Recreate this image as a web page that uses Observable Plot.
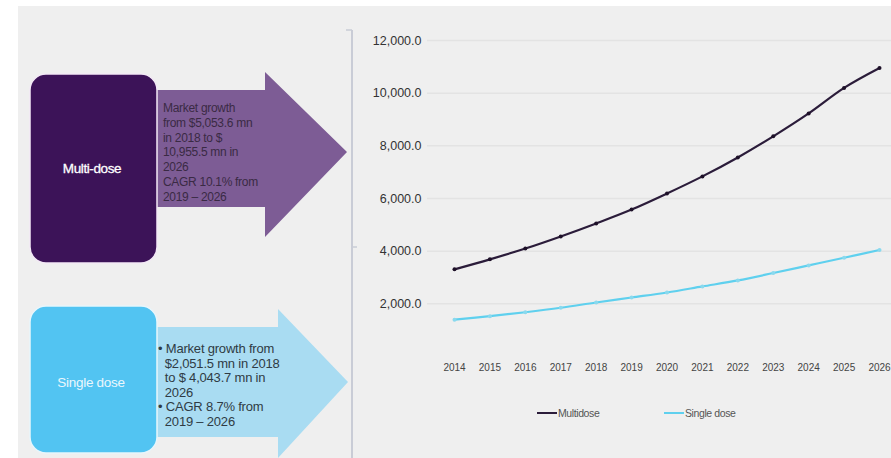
<!DOCTYPE html>
<html><head><meta charset="utf-8">
<script src="https://cdn.jsdelivr.net/npm/d3@7"></script>
<script src="https://cdn.jsdelivr.net/npm/@observablehq/plot@0.6"></script>
<style>
html,body{margin:0;padding:0;background:#fff;}
#wrap{position:relative;width:891px;height:458px;overflow:hidden;background:#fff;font-family:"Liberation Sans",Arial,sans-serif;}
#bg{position:absolute;left:18px;top:6px;right:0;bottom:0;background:#efefef;}
#deco{position:absolute;left:0;top:0;}
#chart{position:absolute;left:0;top:0;}
.lbl{position:absolute;white-space:nowrap;}
.legend{position:absolute;top:407px;font-size:10.5px;color:#555;display:flex;align-items:center;letter-spacing:-0.4px;}
.legend span.sw{display:inline-block;width:20px;height:2.5px;margin-right:1px;}
</style></head>
<body>
<div id="wrap">
<div id="bg"></div>
<svg id="deco" width="891" height="458">
  <polygon points="150,90 265,90 265,72 347,152 265,237 265,207 150,207" fill="#7d5c95"/>
  <rect x="30" y="74" width="127" height="189" rx="16" fill="#3c1358" stroke="#f3e9f6" stroke-width="1.5"/>
  <polygon points="150,327 278,327 278,309 348,382 278,458 278,437 150,437" fill="#a9dcf2"/>
  <rect x="30" y="306" width="127" height="147" rx="16" fill="#52c4f2" stroke="#e8f6fc" stroke-width="1.5"/>
  <line x1="352" y1="30" x2="352" y2="458" stroke="#c9ccd6" stroke-width="2"/>
  <line x1="346" y1="30" x2="352" y2="30" stroke="#c9ccd6" stroke-width="1.5"/>
  <line x1="352" y1="247" x2="357" y2="247" stroke="#c9ccd6" stroke-width="1.5"/>
  <text x="92" y="173" fill="#ffffff" font-size="13.5" text-anchor="middle" font-family="Liberation Sans, Arial, sans-serif" letter-spacing="-0.4" stroke="#ffffff" stroke-width="0.3">Multi-dose</text>
  <text x="91" y="387" fill="#eaf7fd" font-size="13.5" text-anchor="middle" font-family="Liberation Sans, Arial, sans-serif" letter-spacing="-0.3">Single dose</text>
</svg>
<div class="lbl" id="multiText" style="left:163px;top:101px;color:#3a2a44;font-size:12px;line-height:14.8px;letter-spacing:-0.3px;"></div>
<div class="lbl" id="singleText" style="left:158px;top:342px;color:#2f3b44;font-size:13px;line-height:14.5px;letter-spacing:-0.2px;"></div>
<div id="chart"></div>
<div class="legend" style="left:537px;"><span class="sw" style="background:#2b1c3a"></span>Multidose</div>
<div class="legend" style="left:664px;"><span class="sw" style="background:#5fd0ee"></span>Single dose</div>
</div>
<script>
const years = [2014,2015,2016,2017,2018,2019,2020,2021,2022,2023,2024,2025,2026];
const multiDose = [3310,3690,4100,4560,5053.6,5580,6190,6840,7560,8360,9230,10200,10955.5];
const singleDose = [1400,1530,1680,1850,2051.5,2240,2430,2660,2890,3170,3460,3750,4043.7];
const yTicks = [2000,4000,6000,8000,10000,12000];
const multiLines = ["Market growth","from $5,053.6 mn","in 2018 to $","10,955.5 mn in","2026","CAGR 10.1% from","2019 – 2026"];
const singleLines = ["• Market growth from","&nbsp;&nbsp;$2,051.5 mn in 2018","&nbsp;&nbsp;to $ 4,043.7 mn in","&nbsp;&nbsp;2026","• CAGR 8.7% from","&nbsp;&nbsp;2019 – 2026"];

document.getElementById("multiText").innerHTML = multiLines.join("<br>");
document.getElementById("singleText").innerHTML = singleLines.join("<br>");

const data = [
  ...years.map((y,i)=>({year:y, value:multiDose[i], series:"Multidose"})),
  ...years.map((y,i)=>({year:y, value:singleDose[i], series:"Single dose"}))
];
const colors = {"Multidose":"#2b1c3a","Single dose":"#5fd0ee"};
const dotColors = {"Multidose":"#1d1028","Single dose":"#8ad9ee"};

const chart = Plot.plot({
  width: 891, height: 458,
  marginLeft: 427, marginRight: 0, marginTop: 30, marginBottom: 98,
  style: {background: "transparent", fontFamily: "Liberation Sans, Arial, sans-serif", color: "#333"},
  x: {domain: [2014, 2026], range: [454, 879]},
  y: {domain: [0, 12000], range: [356, 40]},
  marks: [
    Plot.gridY(yTicks, {stroke: "#e3e3e3", strokeOpacity: 1, strokeWidth: 1.5}),
    Plot.axisY(yTicks, {tickSize: 0, tickPadding: 6, fontSize: 12.5, tickFormat: d3.format(",.1f"), label: null, fill: "#333"}),
    Plot.axisX(years, {tickSize: 0, tickPadding: 3, fontSize: 10, tickFormat: d => String(d), label: null, fill: "#444"}),
    Plot.line(data, {x: "year", y: "value", z: "series", stroke: d => colors[d.series], strokeWidth: 2.2, curve: "catmull-rom"}),
    Plot.dot(data, {x: "year", y: "value", fill: d => dotColors[d.series], r: 2})
  ]
});
document.getElementById("chart").appendChild(chart);
</script>
</body></html>
